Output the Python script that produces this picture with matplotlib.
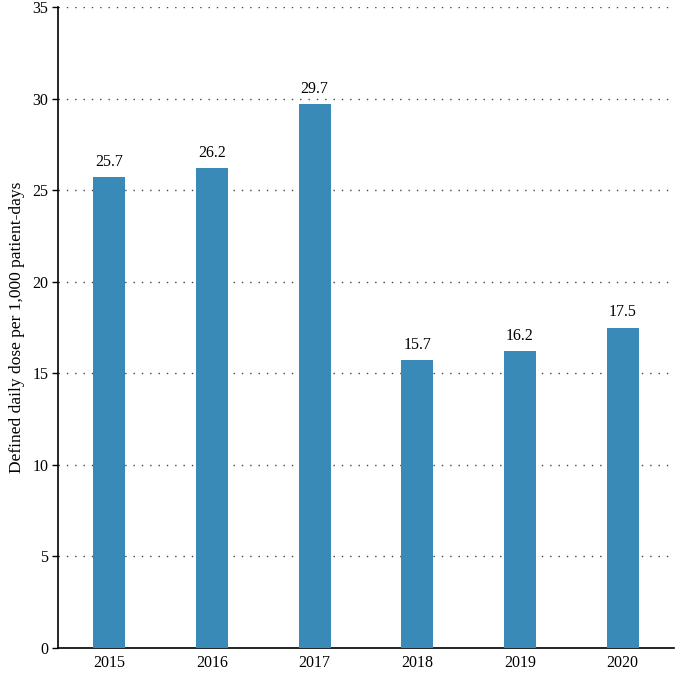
import matplotlib
matplotlib.use("Agg")
import matplotlib.pyplot as plt

years = ["2015", "2016", "2017", "2018", "2019", "2020"]
values = [25.7, 26.2, 29.7, 15.7, 16.2, 17.5]
yticks = [0, 5, 10, 15, 20, 25, 30, 35]

plt.rcParams['font.family'] = ['Liberation Serif', 'DejaVu Serif']
fig = plt.figure(figsize=(6.75, 6.73), dpi=100)
ax = fig.add_axes([58/675, 1-648/673, 1-58/675-1/675, (648-7)/673])

x = list(range(len(years)))
ax.bar(x, values, width=0.31, color='#3a8ab8', zorder=3)
for xi, v in zip(x, values):
    ax.text(xi, v + 0.4, f"{v:.1f}", ha='center', va='bottom', fontsize=11.5)

ax.set_xlim(-0.5, len(years) - 0.5)
ax.set_ylim(0, 35)
ax.set_yticks(yticks)
ax.set_xticks(x)
ax.set_xticklabels(years)
ax.tick_params(axis='x', length=0, labelsize=11.5, pad=5)
ax.tick_params(axis='y', length=4, width=1, labelsize=11.5, pad=3)
for t in yticks[1:]:
    ax.axhline(t, color='#444444', linestyle=(0, (1, 5)), linewidth=1.0, zorder=1)
ax.spines['top'].set_visible(False)
ax.spines['right'].set_visible(False)
ax.spines['left'].set_linewidth(1.2)
ax.spines['bottom'].set_linewidth(1.2)
ax.set_ylabel("Defined daily dose per 1,000 patient-days", fontsize=12.5, labelpad=5)

fig.savefig("out.png", dpi=100)
